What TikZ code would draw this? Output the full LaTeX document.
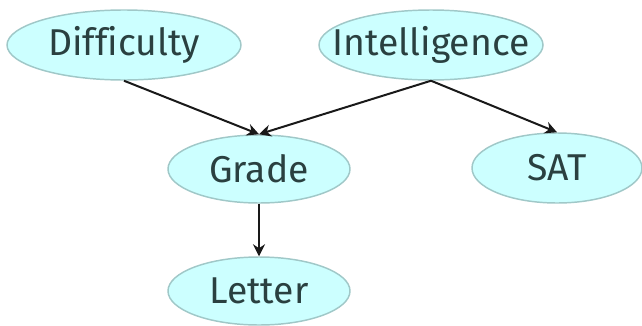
\documentclass[tikz,border=0pt]{standalone}
\usepackage{fontspec}
\setmainfont{Fira Sans}[Ligatures=NoCommon]
\usetikzlibrary{shapes.geometric,arrows.meta}
\definecolor{nodefill}{HTML}{CCFFFF}
\definecolor{nodeline}{HTML}{A0C8C8}
\definecolor{txt}{HTML}{2A4040}
\tikzset{
  var/.style 2 args={ellipse, draw=nodeline, line width=1.1pt, fill=nodefill, inner sep=0pt,
    minimum width=#1, minimum height=#2},
  vartext/.style={text=txt, font=\fontsize{28}{30}\selectfont, inner sep=0pt},
  edge/.style={-{Stealth[length=9pt,width=9pt]}, line width=1.5pt, draw=black!90}
}
\begin{document}
\begin{tikzpicture}[x=0.75pt,y=-0.75pt]
\useasboundingbox (0,0) rectangle (642,325);
\node[var={175.5pt}{52.5pt}, label={[vartext]center:Difficulty}] (D) at (124,45) {};
\node[var={168pt}{52.5pt}, label={[vartext]center:Intelligence}] (I) at (431,45) {};
\node[var={136.5pt}{51pt}, label={[vartext]center:Grade}] (G) at (259,169) {};
\node[var={127.5pt}{52.5pt}, label={[vartext]center:SAT}] (S) at (557,168) {};
\node[var={136.5pt}{51pt}, label={[vartext]center:Letter}] (L) at (259,291) {};
\draw[edge] (D.south) -- (G.north);
\draw[edge] (I.south) -- (G.north);
\draw[edge] (I.south) -- (S.north);
\draw[edge] (G.south) -- (L.north);
\end{tikzpicture}
\end{document}
